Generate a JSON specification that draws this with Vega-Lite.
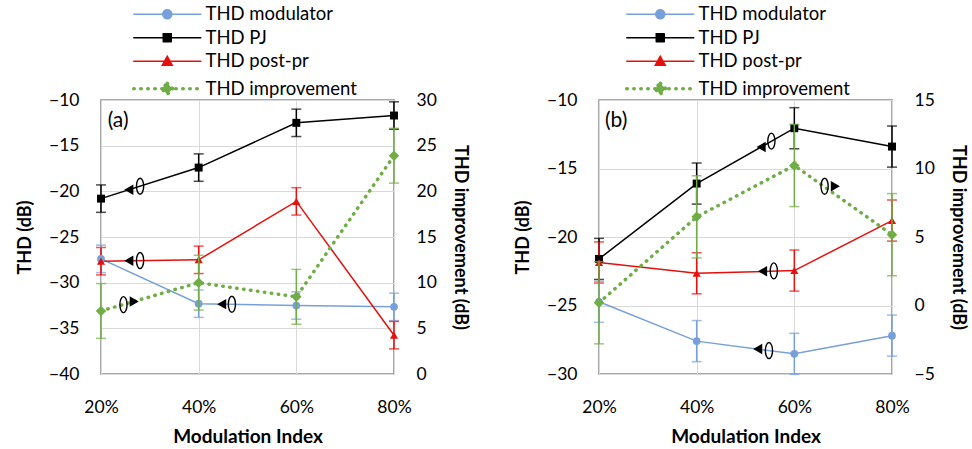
{
  "$schema": "https://vega.github.io/schema/vega-lite/v6.json",
  "background": "white",
  "padding": {"left": 15, "top": 4, "right": 2, "bottom": 2},
  "datasets": {
    "pts": [
      {"panel": "a", "series": "THD modulator", "mi": 20, "thd": -27.4, "err": 1.5},
      {"panel": "a", "series": "THD modulator", "mi": 40, "thd": -32.3, "err": 1.5},
      {"panel": "a", "series": "THD modulator", "mi": 60, "thd": -32.5, "err": 1.5},
      {"panel": "a", "series": "THD modulator", "mi": 80, "thd": -32.65, "err": 1.5},
      {"panel": "a", "series": "THD PJ", "mi": 20, "thd": -20.8, "err": 1.5},
      {"panel": "a", "series": "THD PJ", "mi": 40, "thd": -17.4, "err": 1.5},
      {"panel": "a", "series": "THD PJ", "mi": 60, "thd": -12.5, "err": 1.5},
      {"panel": "a", "series": "THD PJ", "mi": 80, "thd": -11.7, "err": 1.5},
      {"panel": "a", "series": "THD post-pr", "mi": 20, "thd": -27.65, "err": 1.5},
      {"panel": "a", "series": "THD post-pr", "mi": 40, "thd": -27.5, "err": 1.5},
      {"panel": "a", "series": "THD post-pr", "mi": 60, "thd": -21.1, "err": 1.5},
      {"panel": "a", "series": "THD post-pr", "mi": 80, "thd": -35.75, "err": 1.5},
      {"panel": "a", "series": "THD improvement", "mi": 20, "thd": 6.9, "err": 3},
      {"panel": "a", "series": "THD improvement", "mi": 40, "thd": 10.0, "err": 3},
      {"panel": "a", "series": "THD improvement", "mi": 60, "thd": 8.45, "err": 3},
      {"panel": "a", "series": "THD improvement", "mi": 80, "thd": 23.9, "err": 3},
      {"panel": "b", "series": "THD modulator", "mi": 20, "thd": -24.73, "err": 1.5},
      {"panel": "b", "series": "THD modulator", "mi": 40, "thd": -27.6, "err": 1.5},
      {"panel": "b", "series": "THD modulator", "mi": 60, "thd": -28.53, "err": 1.5},
      {"panel": "b", "series": "THD modulator", "mi": 80, "thd": -27.2, "err": 1.5},
      {"panel": "b", "series": "THD PJ", "mi": 20, "thd": -21.6, "err": 1.5},
      {"panel": "b", "series": "THD PJ", "mi": 40, "thd": -16.1, "err": 1.5},
      {"panel": "b", "series": "THD PJ", "mi": 60, "thd": -12.06, "err": 1.5},
      {"panel": "b", "series": "THD PJ", "mi": 80, "thd": -13.4, "err": 1.5},
      {"panel": "b", "series": "THD post-pr", "mi": 20, "thd": -21.86, "err": 1.5},
      {"panel": "b", "series": "THD post-pr", "mi": 40, "thd": -22.65, "err": 1.5},
      {"panel": "b", "series": "THD post-pr", "mi": 60, "thd": -22.45, "err": 1.5},
      {"panel": "b", "series": "THD post-pr", "mi": 80, "thd": -18.8, "err": 1.5},
      {"panel": "b", "series": "THD improvement", "mi": 20, "thd": 0.2, "err": 3},
      {"panel": "b", "series": "THD improvement", "mi": 40, "thd": 6.47, "err": 3},
      {"panel": "b", "series": "THD improvement", "mi": 60, "thd": 10.22, "err": 3},
      {"panel": "b", "series": "THD improvement", "mi": 80, "thd": 5.17, "err": 3}
    ],
    "notes": [
      {"panel": "a", "side": "L", "kind": "tl", "mi": 25.7, "thd": -19.83},
      {"panel": "a", "side": "L", "kind": "el", "mi": 28.0, "thd": -19.44},
      {"panel": "a", "side": "L", "kind": "tl", "mi": 25.7, "thd": -27.6},
      {"panel": "a", "side": "L", "kind": "el", "mi": 28.0, "thd": -27.58},
      {"panel": "a", "side": "L", "kind": "tl", "mi": 44.7, "thd": -32.35},
      {"panel": "a", "side": "L", "kind": "el", "mi": 46.8, "thd": -32.37},
      {"panel": "a", "side": "R", "kind": "el", "mi": 24.6, "thd": 7.6},
      {"panel": "a", "side": "R", "kind": "tr", "mi": 26.8, "thd": 7.95},
      {"panel": "a", "side": "L", "kind": "label", "mi": 23.5, "thd": -12.3, "text": "(a)"},
      {"panel": "b", "side": "L", "kind": "tl", "mi": 53.2, "thd": -13.43},
      {"panel": "b", "side": "L", "kind": "el", "mi": 55.3, "thd": -13.0},
      {"panel": "b", "side": "L", "kind": "tl", "mi": 53.5, "thd": -22.5},
      {"panel": "b", "side": "L", "kind": "el", "mi": 55.8, "thd": -22.47},
      {"panel": "b", "side": "L", "kind": "tl", "mi": 52.5, "thd": -28.18},
      {"panel": "b", "side": "L", "kind": "el", "mi": 54.8, "thd": -28.29},
      {"panel": "b", "side": "R", "kind": "el", "mi": 66.2, "thd": 8.7},
      {"panel": "b", "side": "R", "kind": "tr", "mi": 68.4, "thd": 8.7},
      {"panel": "b", "side": "L", "kind": "label", "mi": 23.5, "thd": -11.55, "text": "(b)"}
    ]
  },
  "config": {
    "font": "Lato",
    "view": {"stroke": "#8c8c8c", "strokeWidth": 1.5},
    "axis": {
      "labelFont": "Lato", "labelFontSize": 17.5, "labelColor": "#000",
      "titleFont": "Lato", "titleFontSize": 18, "titleFontWeight": "bold", "titleColor": "#000",
      "ticks": false, "domain": false, "gridColor": "#d9d9d9", "gridWidth": 1,
      "labelPadding": 22, "titlePadding": 14, "labelFlush": false
    },
    "legend": {
      "labelFont": "Lato", "labelFontSize": 18.5, "labelColor": "#000",
      "symbolSize": 100, "labelOffset": 29, "rowPadding": 4.5, "padding": 0
    }
  },
  "spacing": 43,
  "resolve": {"scale": {"color": "independent"}, "legend": {"color": "independent"}},
  "hconcat": [
    {
      "width": 293, "height": 274,
      "encoding": {
        "x": {"field": "mi", "type": "quantitative",
          "scale": {"domain": [20, 80], "nice": false, "zero": false},
          "axis": {"title": "Modulation Index", "values": [20, 40, 60, 80], "labelExpr": "datum.value + '%'", "grid": true, "titleFontSize": 19, "labelPadding": 24, "titlePadding": 12}}
      },
      "layer": [
        {
          "encoding": {
            "y": {"field": "thd", "type": "quantitative",
              "scale": {"domain": [-40, -10], "nice": false, "zero": false},
              "axis": {"title": "THD (dB)", "orient": "left", "values": [-40, -35, -30, -25, -20, -15, -10], "grid": true}}
          },
          "layer": [
            {
              "data": {"name": "pts"},
              "transform": [{"filter": "datum.panel == 'a' && datum.series != 'THD improvement'"}],
              "mark": {"type": "errorbar", "ticks": {"size": 10}, "thickness": 1.5},
              "encoding": {
                "yError": {"field": "err"},
                "color": {"field": "series", "type": "nominal"}
              }
            },
            {
              "data": {"name": "pts"},
              "transform": [{"filter": "datum.panel == 'a' && datum.series != 'THD improvement'"}],
              "mark": {"type": "line", "strokeWidth": 1.5},
              "encoding": {
                "color": {"field": "series", "type": "nominal",
                  "scale": {"domain": ["THD modulator", "THD PJ", "THD post-pr", "THD improvement"], "range": ["#779fda", "#000000", "#e5100c", "#71ad47"]},
                  "legend": {
                    "title": null, "orient": "none", "legendX": 57, "legendY": -95, "direction": "vertical",
                    "encode": {"symbols": {"update": {
                      "shape": {"signal": "datum.value === 'THD modulator' ? 'M-6.7,0H6.7M0.9,0A0.9,0.9,0,1,1,-0.9,0A0.9,0.9,0,1,1,0.9,0Z' : datum.value === 'THD PJ' ? 'M-6.7,0H6.7M-0.8,-0.8H0.8V0.8H-0.8Z' : datum.value === 'THD post-pr' ? 'M-6.7,0H6.7M0,-1L1,0.8H-1Z' : 'M-6.7,0H6.7M0,-1.1L1.1,0L0,1.1L-1.1,0Z'"},
                      "stroke": {"signal": "datum.value === 'THD modulator' ? '#779fda' : datum.value === 'THD PJ' ? '#000000' : datum.value === 'THD post-pr' ? '#e5100c' : '#71ad47'"},
                      "fill": {"signal": "datum.value === 'THD modulator' ? '#779fda' : datum.value === 'THD PJ' ? '#000000' : datum.value === 'THD post-pr' ? '#e5100c' : '#71ad47'"},
                      "strokeDash": {"signal": "datum.value === 'THD improvement' ? [0.5, 6.5] : [1, 0]"},
                      "strokeWidth": {"signal": "datum.value === 'THD improvement' ? 3.5 : 1.5"},
                      "strokeCap": {"value": "round"},
                      "opacity": {"value": 1}
                    }}}
                  }
                }
              }
            },
            {
              "data": {"name": "pts"},
              "transform": [{"filter": "datum.panel == 'a' && datum.series != 'THD improvement'"}],
              "mark": {"type": "point", "filled": true, "opacity": 1},
              "encoding": {
                "color": {"field": "series", "type": "nominal"},
                "shape": {"field": "series", "type": "nominal", "legend": null,
                  "scale": {"domain": ["THD modulator", "THD PJ", "THD post-pr", "THD improvement"], "range": ["circle", "square", "triangle-up", "diamond"]}},
                "size": {"field": "series", "type": "ordinal", "legend": null,
                  "scale": {"domain": ["THD modulator", "THD PJ", "THD post-pr", "THD improvement"], "range": [60, 70, 90, 110]}}
              }
            },
            {
              "data": {"name": "notes"},
              "transform": [{"filter": "datum.panel == 'a' && datum.kind == 'tl'"}],
              "mark": {"type": "point", "shape": "triangle-left", "filled": true, "color": "#000", "size": 110, "opacity": 1}
            },
            {
              "data": {"name": "notes"},
              "transform": [{"filter": "datum.panel == 'a' && datum.kind == 'el' && datum.side == 'L'"}],
              "mark": {"type": "point", "shape": "M0,-1A0.45,1,0,1,1,0,1A0.45,1,0,1,1,0,-1Z", "filled": false, "color": "#000", "strokeWidth": 1.4, "size": 256, "opacity": 1}
            },
            {
              "data": {"name": "notes"},
              "transform": [{"filter": "datum.panel == 'a' && datum.kind == 'label'"}],
              "mark": {"type": "text", "fontSize": 21, "font": "Lato", "color": "#000", "align": "center", "baseline": "middle"},
              "encoding": {"text": {"field": "text"}}
            }
          ]
        },
        {
          "encoding": {
            "y": {"field": "thd", "type": "quantitative",
              "scale": {"domain": [0, 30], "nice": false, "zero": false},
              "axis": {"title": "THD improvement (dB)", "orient": "right", "values": [0, 5, 10, 15, 20, 25, 30], "grid": false}}
          },
          "layer": [
            {
              "data": {"name": "pts"},
              "transform": [{"filter": "datum.panel == 'a' && datum.series == 'THD improvement'"}],
              "mark": {"type": "errorbar", "ticks": {"size": 10}, "thickness": 1.5},
              "encoding": {
                "yError": {"field": "err"},
                "color": {"field": "series", "type": "nominal"}
              }
            },
            {
              "data": {"name": "pts"},
              "transform": [{"filter": "datum.panel == 'a' && datum.series == 'THD improvement'"}],
              "mark": {"type": "line", "strokeWidth": 3.5, "strokeDash": [0.5, 6.5], "strokeCap": "round"},
              "encoding": {"color": {"field": "series", "type": "nominal"}}
            },
            {
              "data": {"name": "pts"},
              "transform": [{"filter": "datum.panel == 'a' && datum.series == 'THD improvement'"}],
              "mark": {"type": "point", "shape": "diamond", "filled": true, "size": 110, "opacity": 1},
              "encoding": {"color": {"field": "series", "type": "nominal"}}
            },
            {
              "data": {"name": "notes"},
              "transform": [{"filter": "datum.panel == 'a' && datum.kind == 'tr'"}],
              "mark": {"type": "point", "shape": "triangle-right", "filled": true, "color": "#000", "size": 110, "opacity": 1}
            },
            {
              "data": {"name": "notes"},
              "transform": [{"filter": "datum.panel == 'a' && datum.kind == 'el' && datum.side == 'R'"}],
              "mark": {"type": "point", "shape": "M0,-1A0.45,1,0,1,1,0,1A0.45,1,0,1,1,0,-1Z", "filled": false, "color": "#000", "strokeWidth": 1.4, "size": 256, "opacity": 1}
            }
          ]
        }
      ],
      "resolve": {"scale": {"y": "independent"}}
    },
    {
      "width": 293, "height": 274,
      "encoding": {
        "x": {"field": "mi", "type": "quantitative",
          "scale": {"domain": [20, 80], "nice": false, "zero": false},
          "axis": {"title": "Modulation Index", "values": [20, 40, 60, 80], "labelExpr": "datum.value + '%'", "grid": true, "titleFontSize": 19, "labelPadding": 24, "titlePadding": 12}}
      },
      "layer": [
        {
          "encoding": {
            "y": {"field": "thd", "type": "quantitative",
              "scale": {"domain": [-30, -10], "nice": false, "zero": false},
              "axis": {"title": "THD (dB)", "orient": "left", "values": [-30, -25, -20, -15, -10], "grid": true}}
          },
          "layer": [
            {
              "data": {"name": "pts"},
              "transform": [{"filter": "datum.panel == 'b' && datum.series != 'THD improvement'"}],
              "mark": {"type": "errorbar", "ticks": {"size": 10}, "thickness": 1.5},
              "encoding": {
                "yError": {"field": "err"},
                "color": {"field": "series", "type": "nominal"}
              }
            },
            {
              "data": {"name": "pts"},
              "transform": [{"filter": "datum.panel == 'b' && datum.series != 'THD improvement'"}],
              "mark": {"type": "line", "strokeWidth": 1.5},
              "encoding": {
                "color": {"field": "series", "type": "nominal",
                  "scale": {"domain": ["THD modulator", "THD PJ", "THD post-pr", "THD improvement"], "range": ["#779fda", "#000000", "#e5100c", "#71ad47"]},
                  "legend": {
                    "title": null, "orient": "none", "legendX": 52, "legendY": -95, "direction": "vertical",
                    "encode": {"symbols": {"update": {
                      "shape": {"signal": "datum.value === 'THD modulator' ? 'M-6.7,0H6.7M0.9,0A0.9,0.9,0,1,1,-0.9,0A0.9,0.9,0,1,1,0.9,0Z' : datum.value === 'THD PJ' ? 'M-6.7,0H6.7M-0.8,-0.8H0.8V0.8H-0.8Z' : datum.value === 'THD post-pr' ? 'M-6.7,0H6.7M0,-1L1,0.8H-1Z' : 'M-6.7,0H6.7M0,-1.1L1.1,0L0,1.1L-1.1,0Z'"},
                      "stroke": {"signal": "datum.value === 'THD modulator' ? '#779fda' : datum.value === 'THD PJ' ? '#000000' : datum.value === 'THD post-pr' ? '#e5100c' : '#71ad47'"},
                      "fill": {"signal": "datum.value === 'THD modulator' ? '#779fda' : datum.value === 'THD PJ' ? '#000000' : datum.value === 'THD post-pr' ? '#e5100c' : '#71ad47'"},
                      "strokeDash": {"signal": "datum.value === 'THD improvement' ? [0.5, 6.5] : [1, 0]"},
                      "strokeWidth": {"signal": "datum.value === 'THD improvement' ? 3.5 : 1.5"},
                      "strokeCap": {"value": "round"},
                      "opacity": {"value": 1}
                    }}}
                  }
                }
              }
            },
            {
              "data": {"name": "pts"},
              "transform": [{"filter": "datum.panel == 'b' && datum.series != 'THD improvement'"}],
              "mark": {"type": "point", "filled": true, "opacity": 1},
              "encoding": {
                "color": {"field": "series", "type": "nominal"},
                "shape": {"field": "series", "type": "nominal", "legend": null,
                  "scale": {"domain": ["THD modulator", "THD PJ", "THD post-pr", "THD improvement"], "range": ["circle", "square", "triangle-up", "diamond"]}},
                "size": {"field": "series", "type": "ordinal", "legend": null,
                  "scale": {"domain": ["THD modulator", "THD PJ", "THD post-pr", "THD improvement"], "range": [60, 70, 90, 110]}}
              }
            },
            {
              "data": {"name": "notes"},
              "transform": [{"filter": "datum.panel == 'b' && datum.kind == 'tl'"}],
              "mark": {"type": "point", "shape": "triangle-left", "filled": true, "color": "#000", "size": 110, "opacity": 1}
            },
            {
              "data": {"name": "notes"},
              "transform": [{"filter": "datum.panel == 'b' && datum.kind == 'el' && datum.side == 'L'"}],
              "mark": {"type": "point", "shape": "M0,-1A0.45,1,0,1,1,0,1A0.45,1,0,1,1,0,-1Z", "filled": false, "color": "#000", "strokeWidth": 1.4, "size": 256, "opacity": 1}
            },
            {
              "data": {"name": "notes"},
              "transform": [{"filter": "datum.panel == 'b' && datum.kind == 'label'"}],
              "mark": {"type": "text", "fontSize": 21, "font": "Lato", "color": "#000", "align": "center", "baseline": "middle"},
              "encoding": {"text": {"field": "text"}}
            }
          ]
        },
        {
          "encoding": {
            "y": {"field": "thd", "type": "quantitative",
              "scale": {"domain": [-5, 15], "nice": false, "zero": false},
              "axis": {"title": "THD improvement (dB)", "orient": "right", "values": [-5, 0, 5, 10, 15], "grid": false}}
          },
          "layer": [
            {
              "data": {"name": "pts"},
              "transform": [{"filter": "datum.panel == 'b' && datum.series == 'THD improvement'"}],
              "mark": {"type": "errorbar", "ticks": {"size": 10}, "thickness": 1.5},
              "encoding": {
                "yError": {"field": "err"},
                "color": {"field": "series", "type": "nominal"}
              }
            },
            {
              "data": {"name": "pts"},
              "transform": [{"filter": "datum.panel == 'b' && datum.series == 'THD improvement'"}],
              "mark": {"type": "line", "strokeWidth": 3.5, "strokeDash": [0.5, 6.5], "strokeCap": "round"},
              "encoding": {"color": {"field": "series", "type": "nominal"}}
            },
            {
              "data": {"name": "pts"},
              "transform": [{"filter": "datum.panel == 'b' && datum.series == 'THD improvement'"}],
              "mark": {"type": "point", "shape": "diamond", "filled": true, "size": 110, "opacity": 1},
              "encoding": {"color": {"field": "series", "type": "nominal"}}
            },
            {
              "data": {"name": "notes"},
              "transform": [{"filter": "datum.panel == 'b' && datum.kind == 'tr'"}],
              "mark": {"type": "point", "shape": "triangle-right", "filled": true, "color": "#000", "size": 110, "opacity": 1}
            },
            {
              "data": {"name": "notes"},
              "transform": [{"filter": "datum.panel == 'b' && datum.kind == 'el' && datum.side == 'R'"}],
              "mark": {"type": "point", "shape": "M0,-1A0.45,1,0,1,1,0,1A0.45,1,0,1,1,0,-1Z", "filled": false, "color": "#000", "strokeWidth": 1.4, "size": 256, "opacity": 1}
            }
          ]
        }
      ],
      "resolve": {"scale": {"y": "independent"}}
    }
  ]
}
